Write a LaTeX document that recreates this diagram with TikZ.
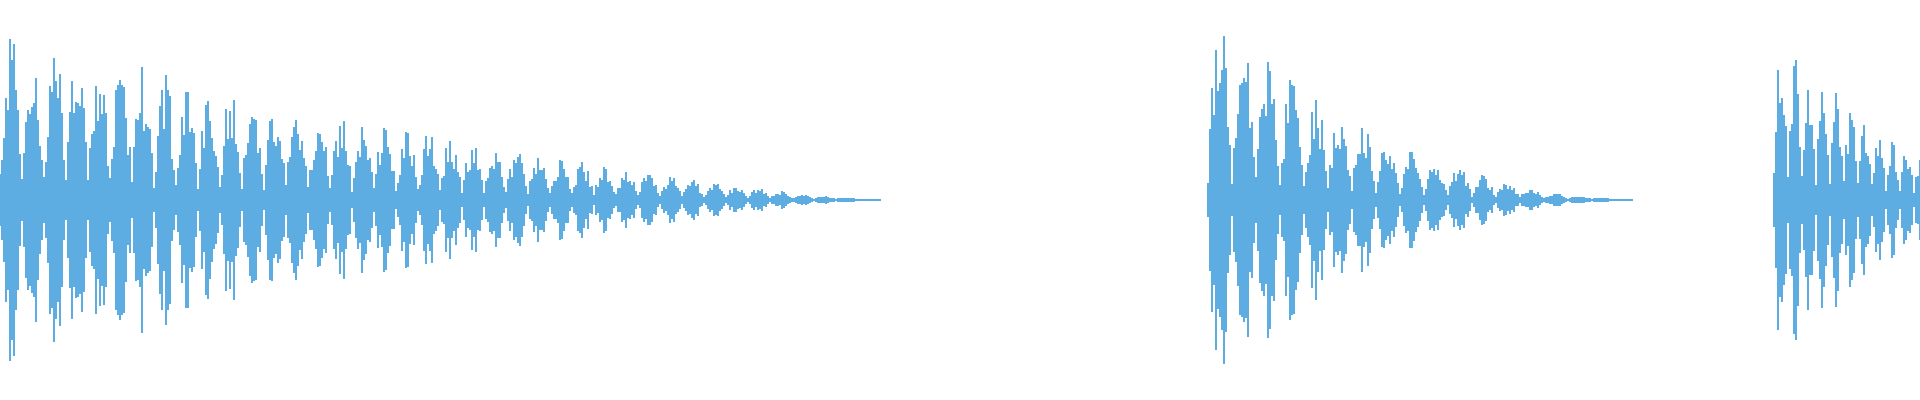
\documentclass[tikz,border=0pt]{standalone}
\definecolor{wave}{RGB}{93,173,226}
\tikzset{bar/.style={draw=wave,line width=0.018cm}}
\begin{document}
\begin{tikzpicture}[x=0.01cm,y=-0.01cm]
\useasboundingbox (0,0) rectangle (1920,400);
\pgfmathsetseed{7}
% first burst
\foreach \x in {0,2,...,880}{
  \pgfmathsetmacro{\h}{175*max(1-\x/880,0.001)^1.4*(0.15+0.85*abs(sin(mod(\x,22)*180/22)))*(0.5+0.5*rnd)+1}
  \draw[bar] (\x,200-\h) -- (\x,200+\h);
}
% second burst
\foreach \x in {1208,1210,...,1632}{
  \pgfmathsetmacro{\h}{200*max(1-(\x-1208)/424,0.001)^2*(0.15+0.85*abs(sin(mod(\x-1208,24)*180/24)))*(0.5+0.5*rnd)+1}
  \draw[bar] (\x,200-\h) -- (\x,200+\h);
}
% third burst
\foreach \x in {1774,1776,...,1920}{
  \pgfmathsetmacro{\h}{165*max(1-(\x-1774)/210,0.001)^1.2*(0.2+0.8*abs(sin(mod(\x-1774,14)*180/14)))*(0.55+0.45*rnd)+1}
  \draw[bar] (\x,200-\h) -- (\x,200+\h);
}
\end{tikzpicture}
\end{document}
